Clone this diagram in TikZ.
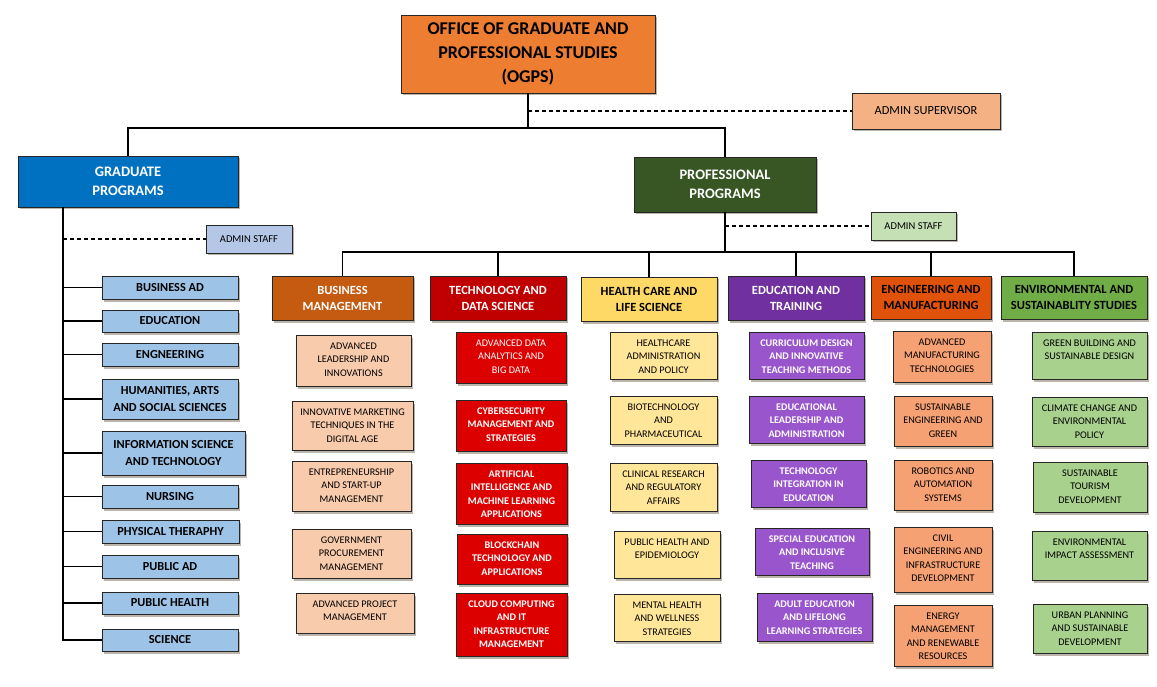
\documentclass[tikz,border=0pt]{standalone}
\usepackage{fontspec}
\setmainfont{Carlito}
\usetikzlibrary{shadows}
\definecolor{cTop}{HTML}{ED7D31}
\definecolor{cSup}{HTML}{F4B183}
\definecolor{cGrad}{HTML}{0070C0}
\definecolor{cProf}{HTML}{375623}
\definecolor{cPAdm}{HTML}{C5E0B4}
\definecolor{cGAdm}{HTML}{B4C7E7}
\definecolor{cLeft}{HTML}{9DC3E6}
\definecolor{cBus}{HTML}{C55A11}
\definecolor{cBusS}{HTML}{F8CBAD}
\definecolor{cTech}{HTML}{C00000}
\definecolor{cTechS}{HTML}{DD0000}
\definecolor{cHea}{HTML}{FFD966}
\definecolor{cHeaS}{HTML}{FFE699}
\definecolor{cEdu}{HTML}{7030A0}
\definecolor{cEduS}{HTML}{9955CC}
\definecolor{cEng}{HTML}{E0520A}
\definecolor{cEngS}{HTML}{F6A174}
\definecolor{cEnv}{HTML}{70AD47}
\definecolor{cEnvS}{HTML}{A9D18E}
\definecolor{cShadow}{HTML}{6B5A45}
\newcommand{\mybox}[7]{\node[#6, minimum width={(#4)-(#2)}, minimum height={(#5)-(#3)}] (#1) at ({((#2)+(#4))/2},{((#3)+(#5))/2}) {#7};}
\newcommand{\subbox}[7]{\pgfmathsetmacro\sbw{(#4)-(#2)}\pgfmathsetmacro\sbh{(#5)-(#3)}\node[#6, minimum width=\sbw pt, minimum height=\sbh pt] (#1) at ({((#2)+(#4))/2},{((#3)+(#5))/2}) {\parbox[c][\sbh pt][t]{\sbw pt}{\centering\rule{0pt}{14pt}#7}};}
\tikzset{
  box/.style={draw=black!85, line width=0.9pt, rectangle, inner sep=0pt, align=center,
    drop shadow={shadow xshift=2pt, shadow yshift=-2.5pt, fill=cShadow, opacity=0.45}},
  sbox/.style={draw=black!85, line width=0.9pt, rectangle, inner sep=0pt,
    drop shadow={shadow xshift=2pt, shadow yshift=-2.5pt, fill=cShadow, opacity=0.45},
    font=\fontsize{10.2}{13.6}\selectfont},
  topf/.style={font=\fontsize{18}{24}\selectfont\bfseries},
  progf/.style={font=\fontsize{14.5}{19}\selectfont\bfseries, text=white},
  catf/.style={font=\fontsize{12.5}{16}\selectfont\bfseries},
  leftf/.style={box, fill=cLeft, font=\fontsize{12.3}{16.5}\selectfont\bfseries},
  conn/.style={line width=1.2pt, black},
  dconn/.style={line width=1.3pt, black, dash pattern=on 4pt off 3pt},
}
\begin{document}
\begin{tikzpicture}[x=1pt,y=-1pt]
\useasboundingbox (0,0) rectangle (1157,687);
% top level
\mybox{top}{401}{15}{655}{93}{box, fill=cTop, topf}{OFFICE OF GRADUATE AND\\PROFESSIONAL STUDIES\\(OGPS)}
\mybox{sup}{852}{93}{1000}{129}{box, fill=cSup, font=\fontsize{12.4}{14}\selectfont}{ADMIN SUPERVISOR}
\mybox{grad}{18}{156}{238}{207}{box, fill=cGrad, progf}{GRADUATE\\PROGRAMS}
\mybox{prof}{634}{157}{816}{212}{box, fill=cProf, progf}{PROFESSIONAL\\PROGRAMS}
\mybox{padm}{871}{212}{956}{240}{box, fill=cPAdm, font=\fontsize{10.5}{12}\selectfont}{ADMIN STAFF}
\mybox{gadm}{206}{225}{292}{253}{box, fill=cGAdm, font=\fontsize{10.5}{12}\selectfont}{ADMIN STAFF}
% graduate list
\mybox{g1}{102}{276}{238}{299}{leftf}{BUSINESS AD}
\mybox{g2}{102}{310}{238}{332}{leftf}{EDUCATION}
\mybox{g3}{102}{343}{238}{366}{leftf}{ENGNEERING}
\mybox{g4}{102}{379}{238}{419}{leftf}{HUMANITIES, ARTS\\AND SOCIAL SCIENCES}
\mybox{g5}{102}{431}{245}{475}{leftf}{INFORMATION SCIENCE\\AND TECHNOLOGY}
\mybox{g6}{102}{485}{238}{508}{leftf}{NURSING}
\mybox{g7}{102}{520}{239}{543}{leftf}{PHYSICAL THERAPHY}
\mybox{g8}{102}{555}{238}{578}{leftf}{PUBLIC AD}
\mybox{g9}{102}{592}{238}{614}{leftf}{PUBLIC HEALTH}
\mybox{g10}{102}{629}{238}{651}{leftf}{SCIENCE}
% category headers
\mybox{h1}{272}{276}{413}{320}{box, fill=cBus, catf, text=white}{BUSINESS\\MANAGEMENT}
\mybox{h2}{430}{276}{566}{320}{box, fill=cTech, catf, text=white}{TECHNOLOGY AND\\DATA SCIENCE}
\mybox{h3}{581}{277}{717}{321}{box, fill=cHea, catf}{HEALTH CARE AND\\LIFE SCIENCE}
\mybox{h4}{728}{276}{864}{320}{box, fill=cEdu, catf, text=white}{EDUCATION AND\\TRAINING}
\mybox{h5}{871}{276}{991}{319}{box, fill=cEng, catf}{ENGINEERING AND\\MANUFACTURING}
\mybox{h6}{1001}{276}{1147}{319}{box, fill=cEnv, catf}{ENVIRONMENTAL AND\\SUSTAINABLITY STUDIES}
% business
\subbox{b1}{296}{335}{411}{386}{sbox, fill=cBusS}{ADVANCED\\LEADERSHIP AND\\INNOVATIONS}
\subbox{b2}{292}{401}{413}{450}{sbox, fill=cBusS}{INNOVATIVE MARKETING\\TECHNIQUES IN THE\\DIGITAL AGE}
\subbox{b3}{292}{461}{411}{511}{sbox, fill=cBusS}{ENTREPRENEURSHIP\\AND START-UP\\MANAGEMENT}
\subbox{b4}{292}{529}{411}{578}{sbox, fill=cBusS}{GOVERNMENT\\PROCUREMENT\\MANAGEMENT}
\subbox{b5}{296}{593}{414}{633}{sbox, fill=cBusS}{ADVANCED PROJECT\\MANAGEMENT}
% technology
\subbox{t1}{456}{332}{566}{383}{sbox, fill=cTechS, text=white}{ADVANCED DATA\\ANALYTICS AND\\BIG DATA}
\subbox{t2}{456}{400}{566}{451}{sbox, fill=cTechS, text=white}{\bfseries CYBERSECURITY\\MANAGEMENT AND\\STRATEGIES}
\subbox{t3}{456}{463}{567}{524}{sbox, fill=cTechS, text=white}{\bfseries ARTIFICIAL\\INTELLIGENCE AND\\MACHINE LEARNING\\APPLICATIONS}
\subbox{t4}{457}{534}{567}{584}{sbox, fill=cTechS, text=white}{\bfseries BLOCKCHAIN\\TECHNOLOGY AND\\APPLICATIONS}
\subbox{t5}{456}{593}{567}{656}{sbox, fill=cTechS, text=white}{\bfseries CLOUD COMPUTING\\AND IT\\INFRASTRUCTURE\\MANAGEMENT}
% health
\subbox{c1}{610}{332}{717}{379}{sbox, fill=cHeaS}{HEALTHCARE\\ADMINISTRATION\\AND POLICY}
\subbox{c2}{610}{396}{717}{444}{sbox, fill=cHeaS}{BIOTECHNOLOGY\\AND\\PHARMACEUTICAL}
\subbox{c3}{610}{463}{717}{511}{sbox, fill=cHeaS}{CLINICAL RESEARCH\\AND REGULATORY\\AFFAIRS}
\subbox{c4}{614}{531}{720}{578}{sbox, fill=cHeaS}{PUBLIC HEALTH AND\\EPIDEMIOLOGY}
\subbox{c5}{614}{594}{720}{641}{sbox, fill=cHeaS}{MENTAL HEALTH\\AND WELLNESS\\STRATEGIES}
% education
\subbox{e1}{749}{332}{864}{379}{sbox, fill=cEduS, text=white}{\bfseries CURRICULUM DESIGN\\AND INNOVATIVE\\TEACHING METHODS}
\subbox{e2}{749}{396}{864}{443}{sbox, fill=cEduS, text=white}{\bfseries EDUCATIONAL\\LEADERSHIP AND\\ADMINISTRATION}
\subbox{e3}{751}{460}{866}{507}{sbox, fill=cEduS, text=white}{\bfseries TECHNOLOGY\\INTEGRATION IN\\EDUCATION}
\subbox{e4}{755}{528}{869}{575}{sbox, fill=cEduS, text=white}{\bfseries SPECIAL EDUCATION\\AND INCLUSIVE\\TEACHING}
\subbox{e5}{757}{593}{872}{641}{sbox, fill=cEduS, text=white}{\bfseries ADULT EDUCATION\\AND LIFELONG\\LEARNING STRATEGIES}
% engineering
\subbox{m1}{893}{331}{991}{382}{sbox, fill=cEngS}{ADVANCED\\MANUFACTURING\\TECHNOLOGIES}
\subbox{m2}{894}{396}{992}{446}{sbox, fill=cEngS}{SUSTAINABLE\\ENGINEERING AND\\GREEN}
\subbox{m3}{894}{460}{992}{510}{sbox, fill=cEngS}{ROBOTICS AND\\AUTOMATION\\SYSTEMS}
\subbox{m4}{894}{527}{992}{592}{sbox, fill=cEngS}{CIVIL\\ENGINEERING AND\\INFRASTRUCTURE\\DEVELOPMENT}
\subbox{m5}{894}{605}{992}{666}{sbox, fill=cEngS}{ENERGY\\MANAGEMENT\\AND RENEWABLE\\RESOURCES}
% environmental
\subbox{v1}{1032}{332}{1147}{379}{sbox, fill=cEnvS}{GREEN BUILDING AND\\SUSTAINABLE DESIGN}
\subbox{v2}{1032}{397}{1147}{446}{sbox, fill=cEnvS}{CLIMATE CHANGE AND\\ENVIRONMENTAL\\POLICY}
\subbox{v3}{1033}{462}{1147}{512}{sbox, fill=cEnvS}{SUSTAINABLE\\TOURISM\\DEVELOPMENT}
\subbox{v4}{1032}{531}{1147}{580}{sbox, fill=cEnvS}{ENVIRONMENTAL\\IMPACT ASSESSMENT}
\subbox{v5}{1033}{604}{1147}{653}{sbox, fill=cEnvS}{URBAN PLANNING\\AND SUSTAINABLE\\DEVELOPMENT}
% connectors
\coordinate (tbus) at (0,128);
\coordinate (gv) at (63,0);
\coordinate (pbus) at (0,252);
\draw[conn] (top.south) -- (top.south |- tbus);
\draw[conn] (grad.north) |- (prof.north |- tbus) -- (prof.north);
\draw[dconn] (top.south |- sup.west) -- (sup.west);
\draw[conn] (grad.south -| gv) -- (gv |- g10.west) -- (g10.west);
\draw[dconn] (gv |- gadm.west) -- (gadm.west);
\foreach \g in {g1,g2,g3,g4,g5,g6,g7,g8,g9} {\draw[conn] (gv |- \g.west) -- (\g.west);}
\draw[conn] (prof.south) -- (prof.south |- pbus);
\draw[dconn] (prof.south |- padm.west) -- (padm.west);
\draw[conn] (h1.north) |- (h6.north |- pbus) -- (h6.north);
\foreach \h in {h2,h3,h4,h5} {\draw[conn] (\h.north) -- (\h.north |- pbus);}
\end{tikzpicture}
\end{document}
